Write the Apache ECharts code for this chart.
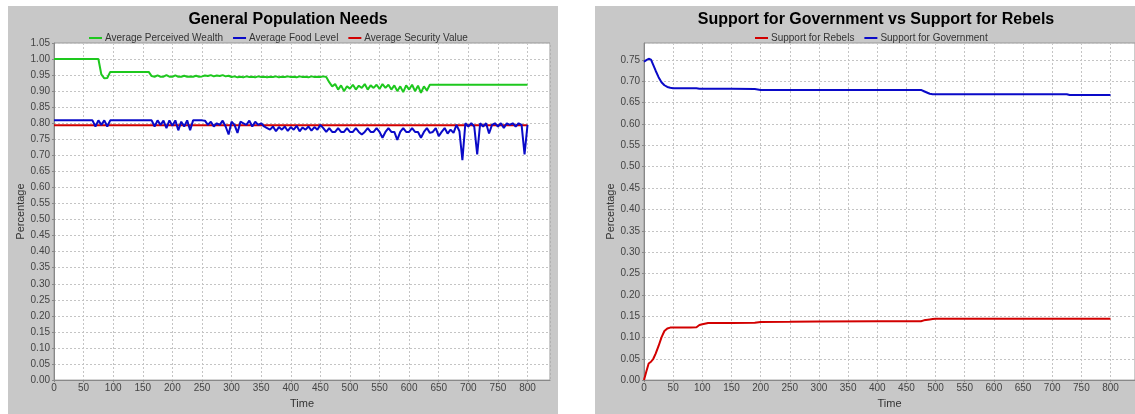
<!DOCTYPE html>
<html>
<head>
<meta charset="utf-8">
<script src="https://cdn.jsdelivr.net/npm/echarts@6/dist/echarts.min.js"></script>
<style>
html,body{margin:0;padding:0;background:#fff;}
#chart{width:1135px;height:414px;}
</style>
</head>
<body>
<div id="chart"></div>
<script>
// ---------- Left chart: General Population Needs (sampled every 5 time steps, t = 0..800) ----------
const needsStep = 5;
const wealthValues = [
  1.00,1.00,1.00,1.00,1.00,1.00,1.00,1.00,1.00,1.00,            // 0-45
  1.00,1.00,1.00,1.00,1.00,1.00,0.952,0.94,0.941,0.96,          // 50-95
  0.96,0.96,0.96,0.96,0.96,0.96,0.96,0.96,0.96,0.96,            // 100-145
  0.96,0.96,0.96,0.947,0.945,0.949,0.945,0.945,0.95,0.945,      // 150-195
  0.945,0.949,0.945,0.945,0.948,0.945,0.946,0.945,0.948,0.945,  // 200-245
  0.946,0.949,0.947,0.95,0.946,0.949,0.947,0.95,0.946,0.948,    // 250-295
  0.944,0.946,0.943,0.945,0.943,0.946,0.944,0.945,0.943,0.946,  // 300-345
  0.944,0.945,0.943,0.945,0.944,0.946,0.943,0.945,0.944,0.946,  // 350-395
  0.944,0.945,0.943,0.946,0.944,0.945,0.943,0.946,0.944,0.945,  // 400-445
  0.944,0.946,0.944,0.928,0.915,0.922,0.905,0.918,0.90,0.915,   // 450-495
  0.908,0.92,0.905,0.917,0.91,0.922,0.905,0.918,0.91,0.92,      // 500-545
  0.907,0.922,0.91,0.92,0.905,0.918,0.90,0.915,0.897,0.918,     // 550-595
  0.905,0.92,0.90,0.917,0.895,0.915,0.902,0.92,0.92,0.92,       // 600-645
  0.92,0.92,0.92,0.92,0.92,0.92,0.92,0.92,0.92,0.92,            // 650-695
  0.92,0.92,0.92,0.92,0.92,0.92,0.92,0.92,0.92,0.92,            // 700-745
  0.92,0.92,0.92,0.92,0.92,0.92,0.92,0.92,0.92,0.92,            // 750-795
  0.92                                                          // 800
];
const foodValues = [
  0.809,0.809,0.809,0.809,0.809,0.809,0.809,0.809,0.809,0.809,  // 0-45
  0.809,0.809,0.809,0.809,0.79,0.809,0.795,0.809,0.79,0.809,    // 50-95
  0.809,0.809,0.809,0.809,0.809,0.809,0.809,0.809,0.809,0.809,  // 100-145
  0.809,0.809,0.809,0.809,0.79,0.809,0.795,0.808,0.785,0.809,   // 150-195
  0.792,0.809,0.778,0.805,0.79,0.809,0.778,0.809,0.809,0.809,   // 200-245
  0.809,0.808,0.795,0.805,0.79,0.80,0.795,0.808,0.79,0.765,     // 250-295
  0.805,0.795,0.77,0.805,0.80,0.795,0.808,0.79,0.805,0.795,     // 300-345
  0.80,0.79,0.785,0.78,0.79,0.775,0.788,0.78,0.79,0.776,        // 350-395
  0.788,0.78,0.792,0.775,0.787,0.78,0.79,0.777,0.788,0.78,      // 400-445
  0.795,0.785,0.773,0.785,0.773,0.773,0.785,0.773,0.773,0.785,  // 450-495
  0.773,0.773,0.785,0.773,0.765,0.773,0.785,0.773,0.773,0.785,  // 500-545
  0.773,0.755,0.773,0.785,0.773,0.773,0.748,0.773,0.785,0.773,  // 550-595
  0.773,0.785,0.773,0.773,0.755,0.773,0.785,0.77,0.773,0.785,   // 600-645
  0.76,0.773,0.785,0.768,0.78,0.77,0.795,0.775,0.685,0.80,      // 650-695
  0.79,0.80,0.79,0.703,0.80,0.79,0.80,0.768,0.795,0.80,         // 700-745
  0.79,0.80,0.785,0.80,0.795,0.80,0.79,0.80,0.795,0.703,        // 750-795
  0.795                                                         // 800
];
const securityTimes = [0, 800];
const securityValues = [0.794, 0.794];

// ---------- Right chart: Support for Government vs Support for Rebels ----------
const supportTimes = [0,4,8,12,16,20,25,30,35,40,45,50,60,80,90,95,100,110,150,190,200,250,300,400,475,480,490,495,500,600,700,725,730,800];
const govValues    = [0.746,0.75,0.753,0.751,0.738,0.725,0.71,0.698,0.691,0.687,0.685,0.684,0.684,0.684,0.684,0.683,0.683,0.683,0.683,0.682,0.680,0.680,0.680,0.680,0.680,0.677,0.671,0.670,0.670,0.670,0.670,0.670,0.668,0.668];
const rebelValues  = [0,0.02,0.039,0.043,0.05,0.062,0.08,0.10,0.115,0.121,0.123,0.123,0.123,0.123,0.124,0.129,0.131,0.134,0.134,0.1345,0.136,0.1365,0.1375,0.138,0.138,0.140,0.142,0.143,0.144,0.144,0.144,0.144,0.144,0.144];

const titles = ['General Population Needs', 'Support for Government vs Support for Rebels'];
const leftLegend = ['Average Perceived Wealth', 'Average Food Level', 'Average Security Value'];
const rightLegend = ['Support for Rebels', 'Support for Government'];

// ---------- build ----------
const FONT = '"Liberation Sans", Arial, Helvetica, sans-serif';
const GREEN = '#1ec81e', BLUE = '#0a0ac8', RED = '#d20000';
const stepPairs = (vals) => vals.map((v, i) => [i * needsStep, v]);
const pairs = (ts, vs) => ts.map((t, i) => [t, vs[i]]);

function xAxisCfg(gridIndex, max) {
  return {
    type: 'value', gridIndex, min: 0, max, interval: 50,
    name: 'Time', nameLocation: 'middle', nameGap: 17,
    nameTextStyle: { fontFamily: FONT, fontSize: 11, color: '#333' },
    axisLine: { show: true, lineStyle: { color: '#888' } },
    axisTick: { show: true, length: 2, lineStyle: { color: '#888' } },
    axisLabel: { fontFamily: FONT, fontSize: 10, color: '#444', margin: 3, showMaxLabel: false },
    splitLine: { show: true, lineStyle: { color: '#c4c4c4', type: [2, 2], width: 1 } }
  };
}
function yAxisCfg(gridIndex, max, nameGap) {
  return {
    type: 'value', gridIndex, min: 0, max, interval: 0.05,
    name: 'Percentage', nameLocation: 'middle', nameGap,
    nameTextStyle: { fontFamily: FONT, fontSize: 11, color: '#333' },
    axisLine: { show: true, lineStyle: { color: '#888' } },
    axisTick: { show: true, length: 2, lineStyle: { color: '#888' } },
    axisLabel: { fontFamily: FONT, fontSize: 10, color: '#444', margin: 4, showMaxLabel: max === 1.05,
      formatter: v => v.toFixed(2) },
    splitLine: { show: true, lineStyle: { color: '#c4c4c4', type: [2, 2], width: 1 } }
  };
}
function lineSeries(name, data, color, xi) {
  return {
    name, type: 'line', data, xAxisIndex: xi, yAxisIndex: xi,
    showSymbol: false, symbol: 'none',
    lineStyle: { color, width: 2 }, itemStyle: { color },
    animation: false
  };
}

const chart = echarts.init(document.getElementById('chart'), null, { renderer: 'canvas' });
chart.setOption({
  backgroundColor: '#ffffff',
  animation: false,
  graphic: [
    { type: 'rect', left: 8, top: 6, shape: { width: 550, height: 410 }, style: { fill: '#c8c8c8' }, z: -10, silent: true },
    { type: 'rect', left: 595, top: 6, shape: { width: 545, height: 410 }, style: { fill: '#c8c8c8' }, z: -10, silent: true }
  ],
  title: [
    { text: titles[0], left: 283, top: 7, textAlign: 'center',
      textStyle: { fontFamily: FONT, fontSize: 16, fontWeight: 'bold', color: '#000' } },
    { text: titles[1], left: 871, top: 7, textAlign: 'center',
      textStyle: { fontFamily: FONT, fontSize: 16, fontWeight: 'bold', color: '#000' } }
  ],
  legend: [
    { data: leftLegend, left: 84, top: 28, icon: 'rect', itemWidth: 13, itemHeight: 2, itemGap: 10,
      textStyle: { fontFamily: FONT, fontSize: 10, color: '#333', padding: [0, 0, 0, -2] } },
    { data: rightLegend, left: 750, top: 28, icon: 'rect', itemWidth: 13, itemHeight: 2, itemGap: 10,
      textStyle: { fontFamily: FONT, fontSize: 10, color: '#333', padding: [0, 0, 0, -2] } }
  ],
  grid: [
    { left: 54, top: 43, width: 496, height: 340, show: true, backgroundColor: '#fff', borderColor: '#999', borderWidth: 1 },
    { left: 644, top: 43, width: 495, height: 340, show: true, backgroundColor: '#fff', borderColor: '#999', borderWidth: 1 }
  ],
  xAxis: [xAxisCfg(0, 838), xAxisCfg(1, 842)],
  yAxis: [yAxisCfg(0, 1.05, 26), yAxisCfg(1, 0.79, 27)],
  series: [
    lineSeries('Average Security Value', pairs(securityTimes, securityValues), RED, 0),
    lineSeries('Average Food Level', stepPairs(foodValues), BLUE, 0),
    lineSeries('Average Perceived Wealth', stepPairs(wealthValues), GREEN, 0),
    lineSeries('Support for Rebels', pairs(supportTimes, rebelValues), RED, 1),
    lineSeries('Support for Government', pairs(supportTimes, govValues), BLUE, 1)
  ]
});
</script>
</body>
</html>
